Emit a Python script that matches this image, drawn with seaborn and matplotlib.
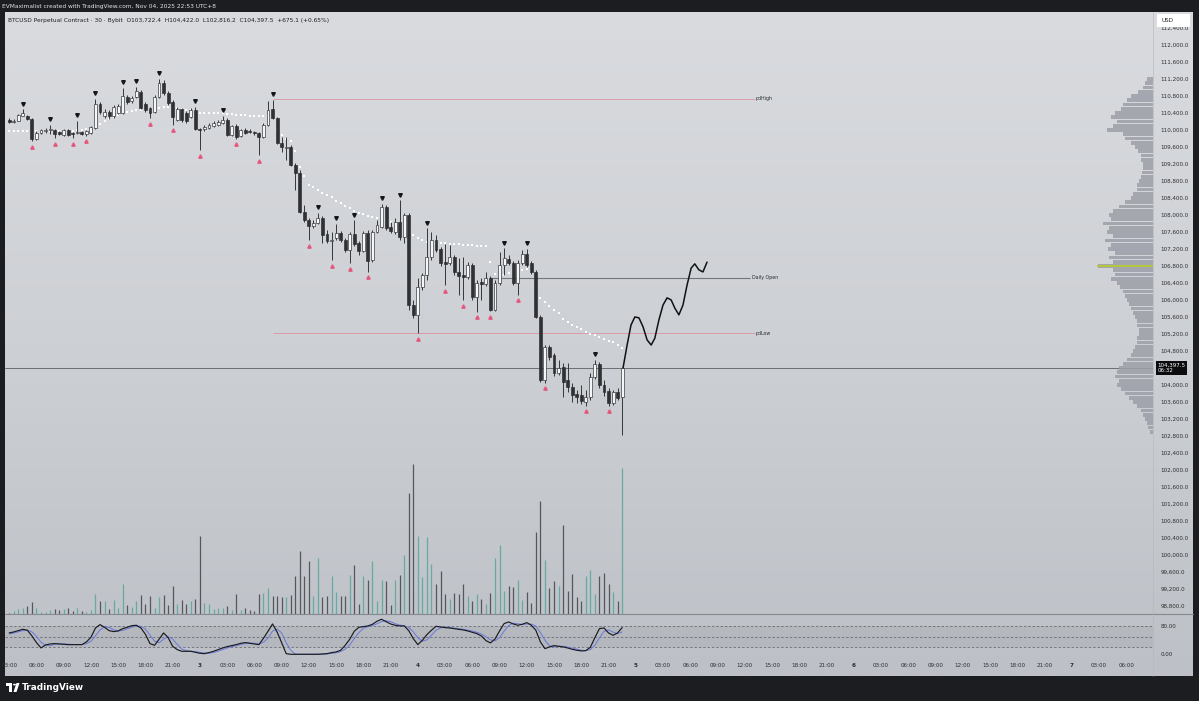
import numpy as np
import matplotlib
matplotlib.use("Agg")
import matplotlib.pyplot as plt
import matplotlib.patches as mpatches
from matplotlib.colors import LinearSegmentedColormap
from matplotlib.lines import Line2D
from matplotlib.transforms import blended_transform_factory, offset_copy
from matplotlib.ticker import FuncFormatter
import seaborn as sns

sns.set_theme(style="white")
plt.rcParams['font.family'] = ['DejaVu Sans']

# ---------------- data (30-minute bars, index = bars since Nov 2 00:00) ----------------
first_bar = 6
open_ = [110240, 110190, 110220, 110340, 110330, 110260, 109790, 109930, 109980, 110000,
         110000, 109950, 109880, 110000, 109930, 109930, 109950, 109910, 109930, 110050,
         110610, 110330, 110420, 110330, 110400, 110400, 110780, 110680, 110780, 110890,
         110610, 110520, 110420, 110780, 111110, 110870, 110660, 110240, 110490, 110400,
         110310, 110470, 110020, 110020, 110050, 110090, 110120, 110170, 110240, 109880,
         110090, 109860, 110000, 109980, 109950, 109930, 109840, 110120, 110490, 110280,
         109690, 109580, 109600, 109180, 108990, 108070, 107880, 107740, 107810, 107930,
         107550, 107390, 107460, 107580, 107410, 107180, 107550, 107340, 107150, 107580,
         106940, 107600, 107720, 108190, 107720, 107600, 107840, 107480, 108000, 105880,
         105650, 106310, 106590, 107010, 107410, 107200, 106890, 106870, 107010, 106660,
         106590, 106540, 106820, 106070, 106420, 106380, 106520, 105770, 106400, 106820,
         106970, 106870, 106400, 106870, 107080, 106870, 106660, 105600, 104120, 104890,
         104710, 104280, 104420, 104120, 103950, 103790, 103770, 103600, 103720, 104190,
         104490, 104000, 103860, 103580, 103840, 103722.4]
close = [110190, 110220, 110350, 110400, 110260, 109790, 109930, 110000, 110000, 110020,
         109910, 109910, 110000, 109880, 109910, 109950, 109910, 109980, 110070, 110610,
         110420, 110420, 110330, 110540, 110560, 110800, 110660, 110750, 110920, 110520,
         110470, 110400, 110780, 111110, 110870, 110640, 110310, 110490, 110240, 110210,
         110470, 110020, 110000, 110070, 110120, 110170, 110190, 110240, 109880, 110090,
         109840, 110000, 109930, 109950, 109930, 109840, 110120, 110470, 110280, 109690,
         109600, 109600, 109180, 108990, 108070, 107880, 107740, 107810, 107930, 107530,
         107390, 107410, 107580, 107410, 107180, 107550, 107320, 107150, 107580, 106920,
         107600, 107770, 108190, 107690, 107620, 107840, 107480, 108000, 105880, 105650,
         106310, 106590, 107010, 107410, 107180, 106870, 106850, 107010, 106660, 106570,
         106540, 106820, 106070, 106400, 106380, 106520, 105770, 106400, 106820, 106990,
         106870, 106400, 106870, 107080, 106820, 106660, 105600, 104120, 104890, 104660,
         104280, 104400, 104070, 103950, 103770, 103720, 103620, 103720, 104190, 104490,
         104000, 103840, 103580, 103840, 103690, 104397.5]
high = [110280, 110260, 110380, 110490, 110350, 110280, 109980, 110020, 110050, 110120,
        110020, 109980, 110020, 110020, 109950, 110210, 109980, 110000, 110090, 110730,
        110660, 110490, 110470, 110590, 110610, 110990, 110820, 110800, 111010, 110940,
        110660, 110540, 110820, 111200, 111180, 110920, 110710, 110540, 110520, 110450,
        110520, 110540, 110050, 110120, 110170, 110210, 110240, 110330, 110280, 110120,
        110140, 110020, 110050, 110020, 109980, 109950, 110170, 110680, 110710, 110310,
        109840, 109840, 109650, 109220, 109060, 108240, 107930, 107880, 108050, 107980,
        107650, 107600, 107790, 107620, 107460, 107600, 107880, 107390, 107620, 107650,
        107650, 107880, 108260, 108240, 107840, 107930, 108350, 108050, 108050, 106000,
        106520, 106640, 107690, 107600, 107530, 107250, 107320, 107290, 107060, 106990,
        107010, 106890, 106870, 106470, 106520, 106660, 106570, 106470, 107130, 107220,
        107060, 106920, 106940, 107180, 107200, 106920, 106710, 105650, 104940, 104940,
        104750, 104590, 104520, 104520, 104050, 103880, 104000, 103880, 104280, 104590,
        104540, 104120, 103930, 103880, 103930, 104422.0]
low = [110170, 110170, 110210, 110330, 110240, 109740, 109760, 109910, 109930, 109910,
       109810, 109880, 109860, 109860, 109810, 109910, 109880, 109870, 109910, 110020,
       110380, 110280, 110260, 110280, 110380, 110380, 110610, 110640, 110750, 110490,
       110420, 110280, 110400, 110750, 110820, 110590, 110120, 110210, 110190, 110170,
       110280, 110000, 109530, 109980, 110020, 110070, 110090, 110140, 109860, 109860,
       109790, 109840, 109910, 109930, 109880, 109410, 109810, 110090, 110260, 109670,
       109480, 109290, 109150, 108590, 108050, 107840, 107410, 107690, 107790, 107340,
       107340, 106940, 107410, 107370, 107130, 106870, 107270, 107060, 107130, 106660,
       106890, 107580, 107690, 107650, 107580, 107550, 107410, 107340, 105770, 105580,
       105220, 106240, 106470, 106940, 107130, 106800, 106350, 106820, 106590, 106120,
       106000, 106490, 106000, 105720, 106000, 106330, 105740, 105740, 106350, 106590,
       106820, 106350, 106120, 106820, 106780, 106610, 105580, 104070, 104050, 104590,
       104210, 104240, 103720, 103840, 103600, 103580, 103550, 103510, 103650, 104140,
       103930, 103740, 103510, 103530, 103650, 102816.2]
volume = [1, 3, 5, 6, 8, 12, 6, 2, 2, 4,
          5, 4, 5, 6, 3, 6, 3, 2, 4, 20,
          13, 13, 5, 14, 6, 30, 9, 7, 13, 19,
          10, 18, 6, 17, 19, 9, 28, 10, 14, 10,
          13, 15, 78, 11, 10, 5, 6, 6, 8, 4,
          20, 4, 6, 4, 3, 20, 21, 26, 18, 18,
          17, 17, 19, 38, 63, 38, 53, 18, 56, 17,
          18, 38, 22, 18, 18, 39, 49, 10, 38, 34,
          53, 13, 34, 33, 9, 34, 39, 59, 121, 150,
          78, 37, 77, 50, 30, 43, 20, 15, 21, 20,
          30, 18, 13, 20, 15, 10, 21, 56, 69, 23,
          28, 27, 34, 14, 22, 11, 82, 113, 54, 26,
          33, 28, 89, 23, 40, 17, 13, 38, 44, 20,
          38, 41, 30, 22, 13, 146]
trail_line = [109980, 109980, 109980, 109980, 109980, 109980, 109980, 109980, 109980, 109980,
              109980, 109980, 109980, 109980, 109980, 110000, 110000, 110020, 110020, 110070,
              110140, 110210, 110260, 110310, 110350, 110400, 110420, 110450, 110470, 110470,
              110470, 110490, 110490, 110520, 110540, 110540, 110520, 110520, 110490, 110470,
              110470, 110450, 110400, 110400, 110400, 110400, 110400, 110400, 110380, 110380,
              110350, 110350, 110350, 110330, 110330, 110330, 110330, 110330, 110310, 110020,
              109880, 109790, 109740, 109510, 109130, 108920, 108710, 108660, 108590, 108520,
              108470, 108420, 108330, 108280, 108210, 108160, 108090, 108050, 108020, 107980,
              107950, 107930, 107910, 107880, 107840, 107790, 107720, 107650, 107600, 107530,
              107460, 107410, 107370, 107370, 107340, 107340, 107340, 107320, 107320, 107320,
              107290, 107290, 107290, 107270, 107270, 107270, 106890, 106610, 106560, 106590,
              106630, 106660, 106680, 106710, 106730, 106680, 106240, 106050, 105950, 105860,
              105770, 105690, 105550, 105480, 105410, 105370, 105320, 105250, 105200, 105180,
              105130, 105080, 105040, 105010, 104940, 104870]
stoch_k = [61.0, 63.8, 67.6, 71.4, 68.6, 52.4, 33.4, 18.1, 26.7, 29.5,
           30.5, 29.5, 28.6, 27.6, 27.6, 27.6, 27.6, 35.3, 48.6, 75.2,
           84.8, 77.1, 67.6, 64.8, 66.7, 73.3, 77.1, 81.9, 82.9, 75.2,
           57.2, 30.5, 25.7, 42.9, 61.0, 47.6, 22.9, 13.4, 8.6, 8.6,
           8.6, 5.7, 2.9, 1.9, 4.8, 8.6, 13.4, 18.1, 21.9, 24.8,
           27.6, 31.4, 33.4, 31.4, 29.5, 27.6, 45.7, 65.7, 86.7, 63.8,
           33.4, 1.9, 0.0, 0.0, 0.0, 0.0, 0.0, 0.0, 0.0, 1.0,
           1.9, 4.8, 6.7, 11.5, 25.7, 42.9, 65.7, 77.1, 79.0, 81.0,
           85.7, 94.3, 100.0, 93.3, 86.7, 82.9, 81.0, 81.0, 67.6, 44.8,
           27.6, 40.0, 56.2, 68.6, 80.0, 78.1, 76.2, 75.2, 73.3, 71.4,
           69.5, 66.7, 62.9, 59.1, 52.4, 39.1, 32.4, 43.8, 66.7, 87.6,
           92.4, 86.7, 82.9, 85.7, 90.5, 82.9, 68.6, 35.3, 16.2, 21.0,
           24.8, 22.9, 21.0, 18.1, 14.3, 11.5, 9.6, 10.5, 20.0, 47.6,
           73.3, 75.2, 61.0, 54.3, 61.0, 76.2]
stoch_d = [58.0, 61.0, 64.1, 67.6, 69.2, 64.1, 51.5, 34.6, 26.1, 24.8,
           28.9, 29.8, 29.5, 28.6, 27.9, 27.6, 27.6, 30.2, 37.2, 53.0,
           69.5, 79.0, 76.5, 69.8, 66.4, 68.3, 72.4, 77.4, 80.6, 80.0,
           71.8, 54.3, 37.8, 33.0, 43.2, 50.5, 43.8, 28.0, 15.0, 10.2,
           8.6, 7.6, 5.7, 3.5, 3.2, 5.1, 8.9, 13.4, 17.8, 21.6,
           24.8, 27.9, 30.8, 32.1, 31.4, 29.5, 34.3, 46.3, 66.0, 72.1,
           61.3, 33.0, 11.8, 0.6, 0.0, 0.0, 0.0, 0.0, 0.0, 0.3,
           1.0, 2.6, 4.5, 7.7, 14.6, 26.7, 44.8, 61.9, 73.9, 79.0,
           81.9, 87.0, 93.3, 95.9, 93.3, 87.6, 83.5, 81.6, 76.5, 64.5,
           46.7, 37.5, 41.3, 54.9, 68.3, 75.6, 78.1, 76.5, 74.9, 73.3,
           71.4, 69.2, 66.4, 62.9, 58.1, 50.2, 41.3, 38.4, 47.6, 66.0,
           82.2, 88.9, 87.3, 85.1, 86.4, 86.4, 80.7, 62.3, 40.0, 24.2,
           20.7, 22.9, 22.9, 20.7, 17.8, 14.6, 11.8, 10.5, 13.4, 26.0,
           47.0, 65.4, 69.8, 63.5, 58.8, 63.8]
pivot_high_bars = [9, 15, 21, 25, 31, 34, 39, 47, 53, 64, 74, 78, 82, 88, 92, 98, 115, 120, 135]
pivot_low_bars = [11, 16, 20, 23, 37, 42, 48, 56, 61, 72, 77, 81, 85, 96, 102, 106, 109, 112,
                  118, 124, 133, 138]
# key levels
pd_high = 110730
pd_low = 105220
daily_open = 106520
last_price = 104397.5
levels_start = 64
daily_open_start = 112
levels_end = 170.3
# hand-drawn projection (bar index, price)
proj_bar = [141.2, 142.1, 142.95, 143.8, 144.7, 145.6, 146.5, 147.4, 148.2, 149.1, 150.0,
            150.9, 151.8, 152.6, 153.5, 154.4, 155.3, 156.2, 157.0, 157.9, 158.8, 159.7]
proj_price = [104400, 104940, 105410, 105600, 105580, 105370, 105060, 104940, 105100, 105530,
              105880, 106050, 106000, 105810, 105650, 105880, 106350, 106750, 106850, 106710,
              106660, 106890]
# visible-range volume profile (price bins top -> bottom, relative widths)
profile_top = 111200
profile_widths = [6, 8, 10, 15, 22, 26, 30, 32, 38, 42, 36, 40, 46, 30, 28, 22, 18, 15, 12, 12,
                  10, 10, 11, 12, 14, 16, 16, 20, 22, 28, 34, 40, 44, 42, 50, 44, 46, 40, 48,
                  42, 45, 38, 44, 40, 55, 40, 38, 42, 36, 33, 30, 28, 26, 24, 22, 20, 18, 16,
                  16, 14, 14, 16, 16, 18, 20, 22, 26, 30, 34, 36, 38, 34, 36, 32, 28, 24, 20,
                  16, 12, 10, 8, 6, 5, 3]
poc_price = 106800
time_labels = ["03:00", "06:00", "09:00", "12:00", "15:00", "18:00", "21:00", "3",
               "03:00", "06:00", "09:00", "12:00", "15:00", "18:00", "21:00", "4",
               "03:00", "06:00", "09:00", "12:00", "15:00", "18:00", "21:00", "5",
               "03:00", "06:00", "09:00", "12:00", "15:00", "18:00", "21:00", "6",
               "03:00", "06:00", "09:00", "12:00", "15:00", "18:00", "21:00", "7",
               "03:00", "06:00"]
header = "EVMaximalist created with TradingView.com, Nov 04, 2025 22:53 UTC+8"
title = ("BTCUSD Perpetual Contract · 30 · Bybit  O103,722.4  H104,422.0  "
         "L102,816.2  C104,397.5  +675.1 (+0.65%)")

# ---------------- figure layout ----------------
W, H = 1199, 701
fig = plt.figure(figsize=(W / 100, H / 100), dpi=100)
fig.patch.set_facecolor('#1c1d21')


def fx(px):
    return px / W


def fy(py):
    return 1 - py / H


XMIN, XMAX = 5.07, 257.93

# gradient panel background
bg = fig.add_axes([fx(5), fy(676), (1193 - 5) / W, (676 - 12) / H])
grad = np.linspace(0, 1, 256).reshape(-1, 1)
bg.imshow(grad, aspect='auto', extent=[0, 1, 0, 1], origin='upper',
          cmap=LinearSegmentedColormap.from_list('bgc', ['#d9dbdf', '#cdd0d4', '#bdc0c6']))
bg.axis('off')

price_rect = [fx(5), fy(614), (1153 - 5) / W, (614 - 12) / H]
osc_rect = [fx(5), fy(660), (1153 - 5) / W, (660 - 614) / H]

idx = np.arange(first_bar, first_bar + len(close))
o = np.array(open_, float)
c = np.array(close, float)
hi = np.array(high, float)
lo = np.array(low, float)
up = c >= o

# volume (own axis beneath candles)
vax = fig.add_axes(price_rect)
vax.set_facecolor('none')
vax.vlines(idx, 0, volume, colors=np.where(up, '#66aaa3', '#55575d'), lw=0.9)
vax.set_xlim(XMIN, XMAX)
vax.set_ylim(0, 602)
vax.axis('off')

ax = fig.add_axes(price_rect)
ax.set_facecolor('none')
ax.set_xlim(XMIN, XMAX)
ax.set_ylim(98611, 112776)

# trailing dotted line
sns.scatterplot(x=idx, y=trail_line, ax=ax, color='white', s=2.2, marker='s',
                linewidth=0, zorder=3)
# candles
ax.vlines(idx, lo, hi, color='#36373b', lw=0.7, zorder=4)
body_h = np.maximum(np.abs(c - o), 20)
ax.bar(idx, body_h, bottom=np.minimum(o, c), width=0.64,
       color=np.where(up, '#f5f6f8', '#303135'), edgecolor='#2a2b2f', linewidth=0.45, zorder=5)

# pivot markers
tr_up = offset_copy(ax.transData, fig=fig, x=0, y=4.0, units='points')
tr_dn = offset_copy(ax.transData, fig=fig, x=0, y=-4.0, units='points')
ph = np.array(pivot_high_bars)
pl = np.array(pivot_low_bars)
ax.plot(ph, hi[ph - first_bar], 'v', ms=2.6, color='#151619', ls='none', transform=tr_up, zorder=6)
ax.plot(pl, lo[pl - first_bar], '^', ms=2.4, color='#e5577d', ls='none', transform=tr_dn, zorder=6)

# key levels
ax.hlines([pd_high, pd_low], levels_start, levels_end, color='#dc8d99', lw=0.55, zorder=2)
ax.hlines(daily_open, daily_open_start, levels_end - 1.1, color='#72757c', lw=0.8, zorder=2)
ax.text(levels_end + 0.2, pd_high, "pdHigh", fontsize=3.4, color='#2b2c30', va='center', ha='left')
ax.text(levels_end - 0.8, daily_open, "Daily Open", fontsize=3.4, color='#2b2c30', va='center', ha='left')
ax.text(levels_end + 0.2, pd_low, "pdLow", fontsize=3.4, color='#2b2c30', va='center', ha='left')
ax.axhline(last_price, color='#5d6067', lw=0.6, zorder=2)

# projection path
sns.lineplot(x=proj_bar, y=proj_price, ax=ax, sort=False, estimator=None,
             color='#111214', lw=1.1, zorder=6)

# price scale (the 104,400 label sits under the last-price tag, as in TradingView)
price_ticks = [t for t in np.arange(98800, 112401, 400) if t != 104400]
ax.yaxis.tick_right()
ax.set_yticks(price_ticks)
ax.yaxis.set_major_formatter(FuncFormatter(lambda v, _: f"{v:,.1f}"))
ax.tick_params(axis='y', length=0, pad=5.5, labelsize=4.1, labelcolor='#2e2f33')
ax.set_xticks([])
for s in ax.spines.values():
    s.set_visible(False)

# volume profile
prof = ax.inset_axes([(1095 - 5) / 1148, 0, 58 / 1148, 1])
prof.set_facecolor('none')
levels = profile_top - 100 * np.arange(len(profile_widths))
prof.barh(levels, profile_widths, height=88, color='#9c9fa7', alpha=0.85, lw=0)
prof.hlines(poc_price, 0, 56, color='#b7ca2f', lw=1.3)
prof.set_xlim(58, 0)
prof.set_ylim(ax.get_ylim())
prof.axis('off')

# last-price tag
btr = blended_transform_factory(ax.transAxes, ax.transData)
ax.text(1.004, last_price, "104,397.5\n06:32", transform=btr, fontsize=4.0, color='white',
        va='center', ha='left', linespacing=1.05, zorder=10, clip_on=False,
        bbox=dict(boxstyle='square,pad=0.32', fc='#0c0c0e', ec='none'))

# ---------------- oscillator ----------------
osc = fig.add_axes(osc_rect)
osc.set_facecolor('none')
osc.set_xlim(XMIN, XMAX)
osc.set_ylim(-16.3, 115.1)
osc.axhspan(20, 80, color='#a3a6ad', alpha=0.35, lw=0)
for lvl in (80, 50, 20):
    osc.axhline(lvl, color='#6b6e75', lw=0.6, ls=(0, (3, 2.2)))
sns.lineplot(x=idx, y=stoch_d, ax=osc, color='#6a78dc', lw=0.7)
sns.lineplot(x=idx, y=stoch_k, ax=osc, color='#1a1b1f', lw=0.85)
osc.yaxis.tick_right()
osc.set_yticks([80, 0])
osc.set_yticklabels(["80.00", "0.00"])
osc.set_xticks(6 + 6 * np.arange(len(time_labels)))
osc.set_xticklabels(time_labels)
osc.tick_params(axis='y', length=0, pad=5.5, labelsize=4.1, labelcolor='#2e2f33')
osc.tick_params(axis='x', length=0, pad=2.2, labelsize=4.1, labelcolor='#2e2f33')
for t in osc.get_xticklabels():
    if ':' not in t.get_text():
        t.set_fontweight('bold')
osc.set_xlabel('')
osc.set_ylabel('')
for s in osc.spines.values():
    s.set_visible(False)
ax.set_xlabel('')
ax.set_ylabel('')

# separators
fig.add_artist(Line2D([fx(5), fx(1193)], [fy(614), fy(614)], color='#868990', lw=0.8))
fig.add_artist(Line2D([fx(1153), fx(1153)], [fy(12), fy(676)], color='#b3b6bc', lw=0.4))

# texts
fig.text(fx(2), fy(6.5), header, color='#e4e4e6', fontsize=4.2, va='center', ha='left')
fig.text(fx(8), fy(20.5), title, color='#1e1f23', fontsize=4.2, va='center', ha='left')

# USD box
fig.add_artist(mpatches.Rectangle((fx(1157), fy(27)), fx(33), 13 / H, facecolor='white',
                                  edgecolor='none', transform=fig.transFigure))
fig.text(fx(1161), fy(20.5), "USD", fontsize=4.1, color='#1e1f23', va='center', ha='left')

# TradingView footer
fig.add_artist(mpatches.Rectangle((fx(6), fy(686)), fx(6), 3 / H, facecolor='white',
                                  edgecolor='none', transform=fig.transFigure))
fig.add_artist(mpatches.Rectangle((fx(9), fy(692)), fx(3), 9 / H, facecolor='white',
                                  edgecolor='none', transform=fig.transFigure))
fig.add_artist(mpatches.Circle((fx(14.5), fy(684.6)), 1.5 / W, facecolor='white',
                               edgecolor='none', transform=fig.transFigure))
fig.add_artist(mpatches.Polygon([(fx(16.5), fy(683)), (fx(19.5), fy(683)), (fx(16.5), fy(692)),
                                 (fx(13.5), fy(692))], closed=True, facecolor='white',
                                edgecolor='none', transform=fig.transFigure))
fig.text(fx(22), fy(687.5), "TradingView", color='white', fontsize=6.4, fontweight='bold',
         va='center', ha='left')

fig.savefig("out.png", dpi=100, facecolor=fig.get_facecolor())
